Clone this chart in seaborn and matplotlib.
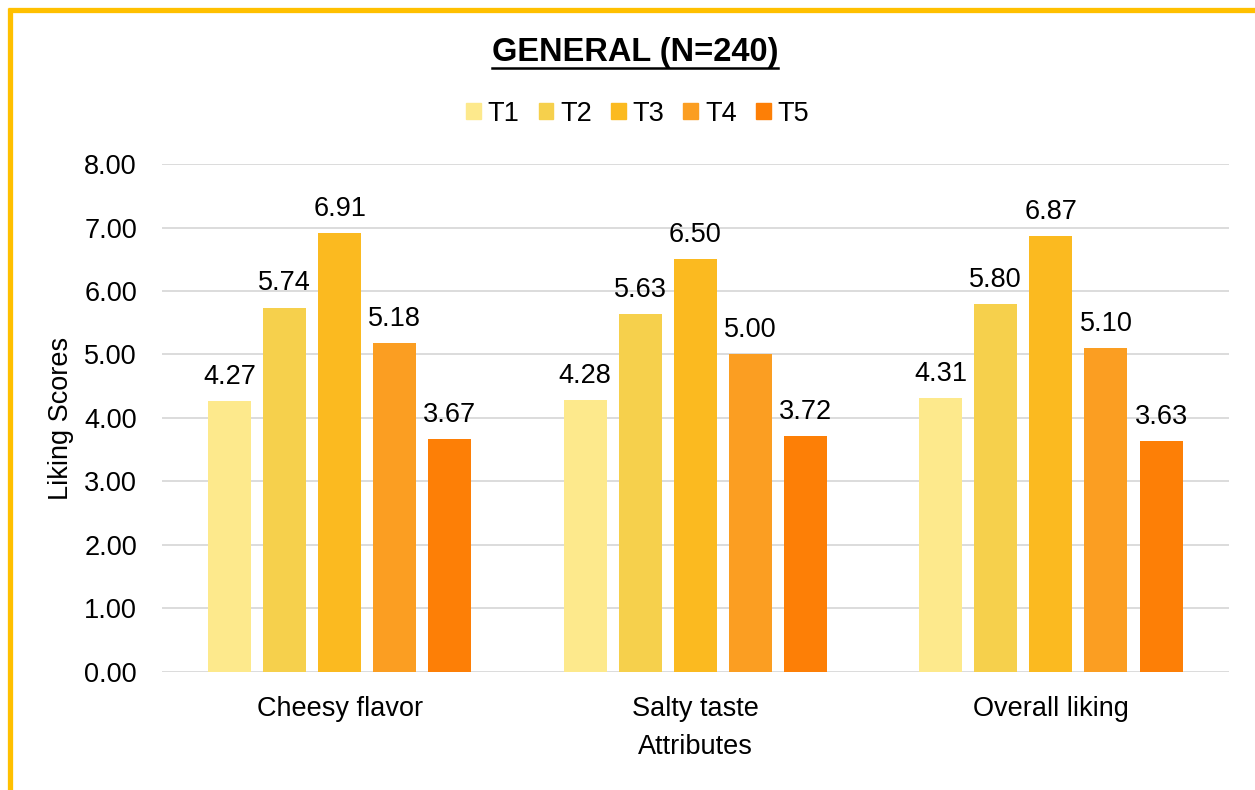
import pandas as pd
import seaborn as sns
import matplotlib.pyplot as plt
from matplotlib.lines import Line2D

# datos del gráfico
atributos = ["Cheesy flavor", "Salty taste", "Overall liking"]
tratamientos = ["T1", "T2", "T3", "T4", "T5"]
t1 = [4.27, 4.28, 4.31]
t2 = [5.74, 5.63, 5.80]
t3 = [6.91, 6.50, 6.87]
t4 = [5.18, 5.00, 5.10]
t5 = [3.67, 3.72, 3.63]
cores = ["#FDE98C", "#F6D04C", "#FBBA20", "#FB9E22", "#FD7F06"]

valores = {"T1": t1, "T2": t2, "T3": t3, "T4": t4, "T5": t5}
linhas = []
for t in tratamientos:
    for a, v in zip(atributos, valores[t]):
        linhas.append({"Attribute": a, "Treatment": t, "Score": v})
df = pd.DataFrame(linhas)

plt.rcParams['font.family'] = ['Liberation Sans', 'DejaVu Sans']
fs = 19.5

fig = plt.figure(figsize=(12.55, 7.9), dpi=100)
ax = fig.add_axes([0.129, 0.1494, 0.850, 0.643])

sns.barplot(data=df, x="Attribute", y="Score", hue="Treatment",
            palette=cores, saturation=1, width=0.775, gap=0.22, ax=ax,
            legend=False)

for cont in ax.containers:
    ax.bar_label(cont, fmt="%.2f", padding=8, fontsize=fs)

ax.set_ylim(0, 8)
ax.set_xlim(-0.5, 2.5)
ax.set_yticks([0, 1, 2, 3, 4, 5, 6, 7, 8])
ax.set_yticklabels([f"{v:.2f}" for v in range(9)], fontsize=fs)
ax.tick_params(axis='x', labelsize=fs, length=0, pad=17)
ax.tick_params(axis='y', length=0, pad=18)
ax.grid(axis='y', color='#D9D9D9', linewidth=1.3)
ax.set_axisbelow(True)
for s in ax.spines.values():
    s.set_visible(False)
ax.set_xlabel("Attributes", fontsize=fs, labelpad=9)
ax.set_ylabel("Liking Scores", fontsize=fs, labelpad=7)

# legenda no topo
handles = [plt.Rectangle((0, 0), 1, 1, color=c) for c in cores]
fig.legend(handles, tratamientos, loc='center', bbox_to_anchor=(0.508, 0.856),
           ncol=5, frameon=False, fontsize=fs, handlelength=0.55,
           handleheight=0.55, handletextpad=0.25, columnspacing=0.7)

# título sublinhado
titulo = fig.text(0.506, 0.934, "GENERAL (N=240)", ha='center', va='center',
                  fontsize=23.5, fontweight='bold')
fig.canvas.draw()
bb = titulo.get_window_extent().transformed(fig.transFigure.inverted())
fig.add_artist(Line2D([bb.x0, bb.x1], [bb.y0 - 0.001, bb.y0 - 0.001],
                      color='black', linewidth=1.8, transform=fig.transFigure))

# moldura amarela (só topo e esquerda)
fig.add_artist(Line2D([0.0064, 1.0], [0.9873, 0.9873], color='#FFC000',
                      linewidth=3.8, transform=fig.transFigure, solid_capstyle='butt'))
fig.add_artist(Line2D([0.0080, 0.0080], [0.0, 0.9898], color='#FFC000',
                      linewidth=3.8, transform=fig.transFigure, solid_capstyle='butt'))

fig.savefig("out.png", dpi=100, facecolor='white')
